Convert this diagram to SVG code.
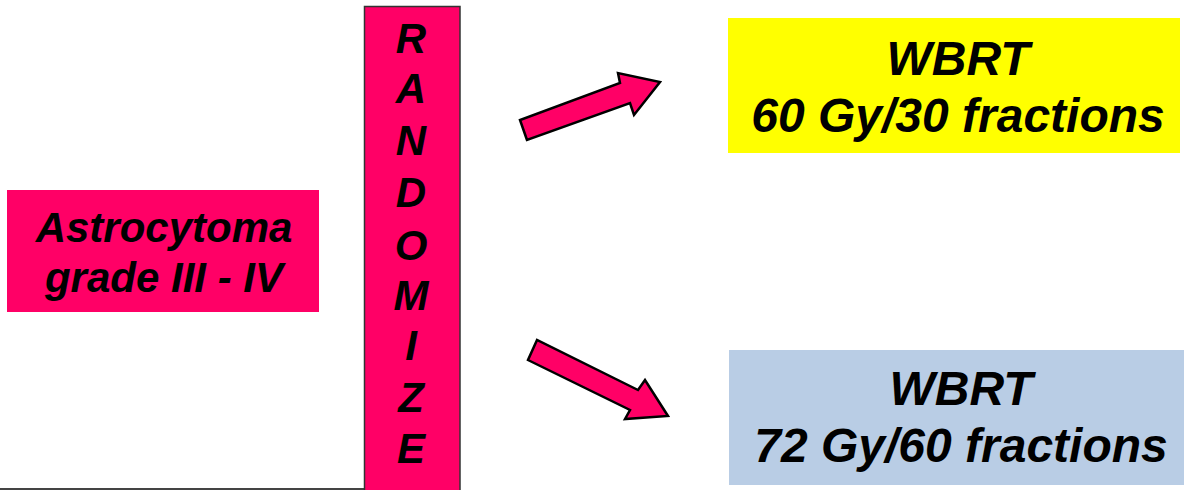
<svg xmlns="http://www.w3.org/2000/svg" width="1184" height="490" viewBox="0 0 1184 490">
  <style>
    .lbl { font-family: "Liberation Sans", Arial, sans-serif; font-weight: bold; font-style: italic; fill: #000; text-anchor: middle; }
    .pink { fill: #FF0066; }
    .arrow { fill: #FF0066; stroke: #000; stroke-width: 2.5; stroke-linejoin: miter; }
  </style>
  <rect width="1184" height="490" fill="#fff"/>
  <!-- baseline rule along the bottom edge -->
  <line x1="0" y1="489" x2="460" y2="489" stroke="#444" stroke-width="2"/>

  <g id="astrocytoma">
    <rect class="pink" x="7" y="190" width="312" height="122"/>
    <text class="lbl" x="164" y="242" font-size="42">Astrocytoma</text>
    <text class="lbl" x="164" y="292" font-size="42">grade III - IV</text>
  </g>

  <g id="randomize">
    <rect class="pink" x="364.5" y="6.5" width="95.5" height="490" stroke="#333" stroke-width="1.5"/>
    <g class="lbl" font-size="42">
      <text x="411" y="53">R</text>
      <text x="411" y="103">A</text>
      <text x="411" y="155">N</text>
      <text x="411" y="207">D</text>
      <text x="411" y="260">O</text>
      <text x="411" y="310">M</text>
      <text x="411" y="360">I</text>
      <text x="411" y="412">Z</text>
      <text x="411" y="463">E</text>
    </g>
  </g>

  <g id="wbrt-60">
    <rect x="728" y="18" width="452" height="135" fill="#FFFF00"/>
    <text class="lbl" x="958" y="75" font-size="48">WBRT</text>
    <text class="lbl" x="958" y="132" font-size="48">60 Gy/30 fractions</text>
  </g>

  <g id="wbrt-72">
    <rect x="729" y="350" width="455" height="135" fill="#B9CDE5"/>
    <text class="lbl" x="961" y="405" font-size="48">WBRT</text>
    <text class="lbl" x="961" y="462" font-size="48">72 Gy/60 fractions</text>
  </g>

  <g id="connectors">
    <polygon class="arrow" points="527,140 520,120 620,83 618,73 660,82 634,115 630,103"/>
    <polygon class="arrow" points="537,340 528,360 630,410 625,419 668,416 645,380 638,390"/>
  </g>
</svg>
